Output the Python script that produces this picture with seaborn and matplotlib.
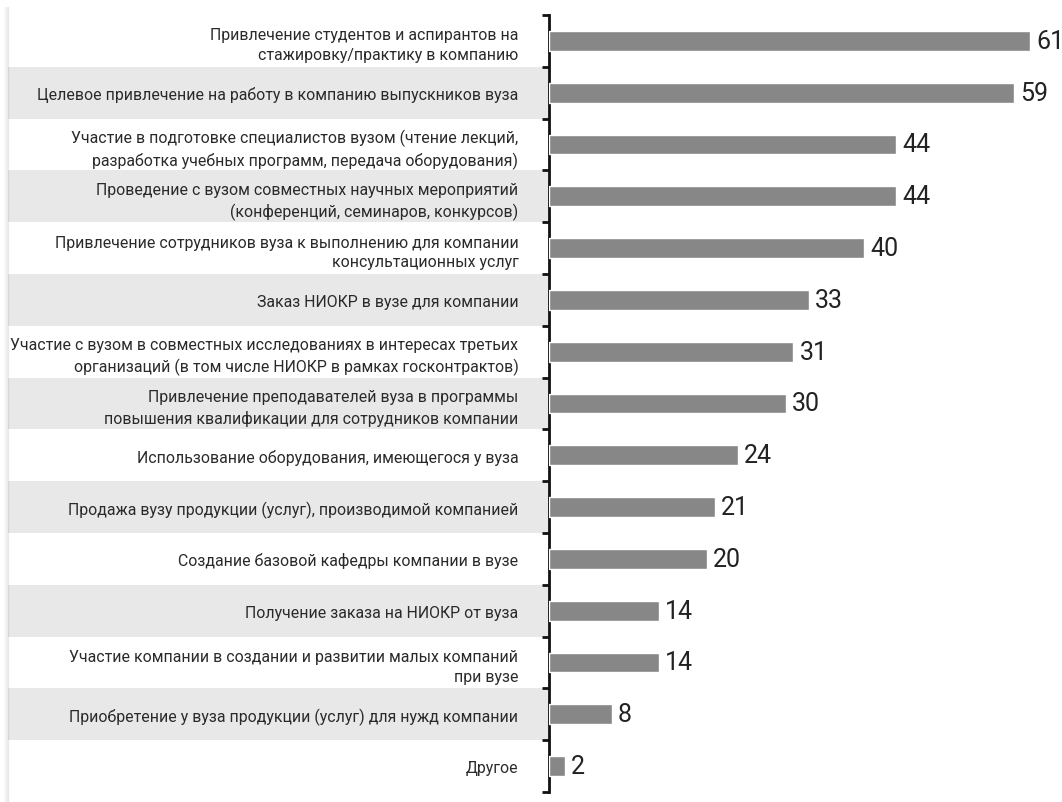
import matplotlib
matplotlib.use("Agg")
import matplotlib.pyplot as plt
import seaborn as sns
import pandas as pd
from matplotlib import font_manager as fm
from matplotlib.lines import Line2D

categories = [
    "Привлечение студентов и аспирантов на\nстажировку/практику в компанию",
    "Целевое привлечение на работу в компанию выпускников вуза",
    "Участие в подготовке специалистов вузом (чтение лекций,\nразработка учебных программ, передача оборудования)",
    "Проведение с вузом совместных научных мероприятий\n(конференций, семинаров, конкурсов)",
    "Привлечение сотрудников вуза к выполнению для компании\nконсультационных услуг",
    "Заказ НИОКР в вузе для компании",
    "Участие с вузом в совместных исследованиях в интересах третьих\nорганизаций (в том числе НИОКР в рамках госконтрактов)",
    "Привлечение преподавателей вуза в программы\nповышения квалификации для сотрудников компании",
    "Использование оборудования, имеющегося у вуза",
    "Продажа вузу продукции (услуг), производимой компанией",
    "Создание базовой кафедры компании в вузе",
    "Получение заказа на НИОКР от вуза",
    "Участие компании в создании и развитии малых компаний\nпри вузе",
    "Приобретение у вуза продукции (услуг) для нужд компании",
    "Другое",
]
values = [61, 59, 44, 44, 40, 33, 31, 30, 24, 21, 20, 14, 14, 8, 2]

sns.set_style("white")
names = {f.name for f in fm.fontManager.ttflist}
narrow = "Liberation Sans Narrow" if "Liberation Sans Narrow" in names else "Roboto"
plt.rcParams["font.family"] = [narrow, "DejaVu Sans"]

W, H = 1062, 803
fig = plt.figure(figsize=(W / 100, H / 100), dpi=100)
ax_left, ax_top, ax_bottom = 549, 16, 793
px_per_unit = (1032 - 551) / 61
xmax = (W - ax_left) / px_per_unit
ax = fig.add_axes([ax_left / W, 1 - ax_bottom / H, (W - ax_left) / W, (ax_bottom - ax_top) / H])

df = pd.DataFrame({"cat": categories, "val": values})
sns.barplot(data=df, y="cat", x="val", orient="h", color="#878787", width=0.38,
            saturation=1, ax=ax, zorder=3)
n = len(categories)
ax.set_ylim(n - 0.5, -0.5)
ax.set_xlim(0, xmax)
ax.set_xlabel("")
ax.set_ylabel("")
ax.set_xticks([])

# alternating bands
band_xmin = -(ax_left - 8) / (W - ax_left)
for i in range(n):
    if i % 2 == 1:
        ax.axhspan(i - 0.5, i + 0.5, xmin=band_xmin, xmax=0, color="#e8e8e8",
                   clip_on=False, zorder=0, lw=0)

for s in ["top", "right", "bottom"]:
    ax.spines[s].set_visible(False)
ax.spines["left"].set_linewidth(2)
ax.spines["left"].set_color("#111111")

ax.set_yticks(range(n))
ax.set_yticklabels(categories, fontsize=11.4, color="#2a2a2a", linespacing=1.4)
ax.tick_params(axis="y", which="major", left=False, length=0, pad=22)
ax.set_yticks([i - 0.5 for i in range(n + 1)], minor=True)
ax.tick_params(axis="y", which="minor", left=True, length=5, width=2,
               color="#111111", direction="out")

for i, v in enumerate(values):
    ax.text(v + 6 / px_per_unit, i, str(v), va="center", ha="left",
            fontsize=18, color="#222222")

# left edge shadow
for k, a in enumerate([0.03, 0.05, 0.08, 0.12, 0.16]):
    x = (4 + k) / W
    fig.add_artist(Line2D([x, x], [0.0, 0.99], transform=fig.transFigure,
                          color="#888888", alpha=a, lw=1))

fig.savefig("out.png", dpi=100)
